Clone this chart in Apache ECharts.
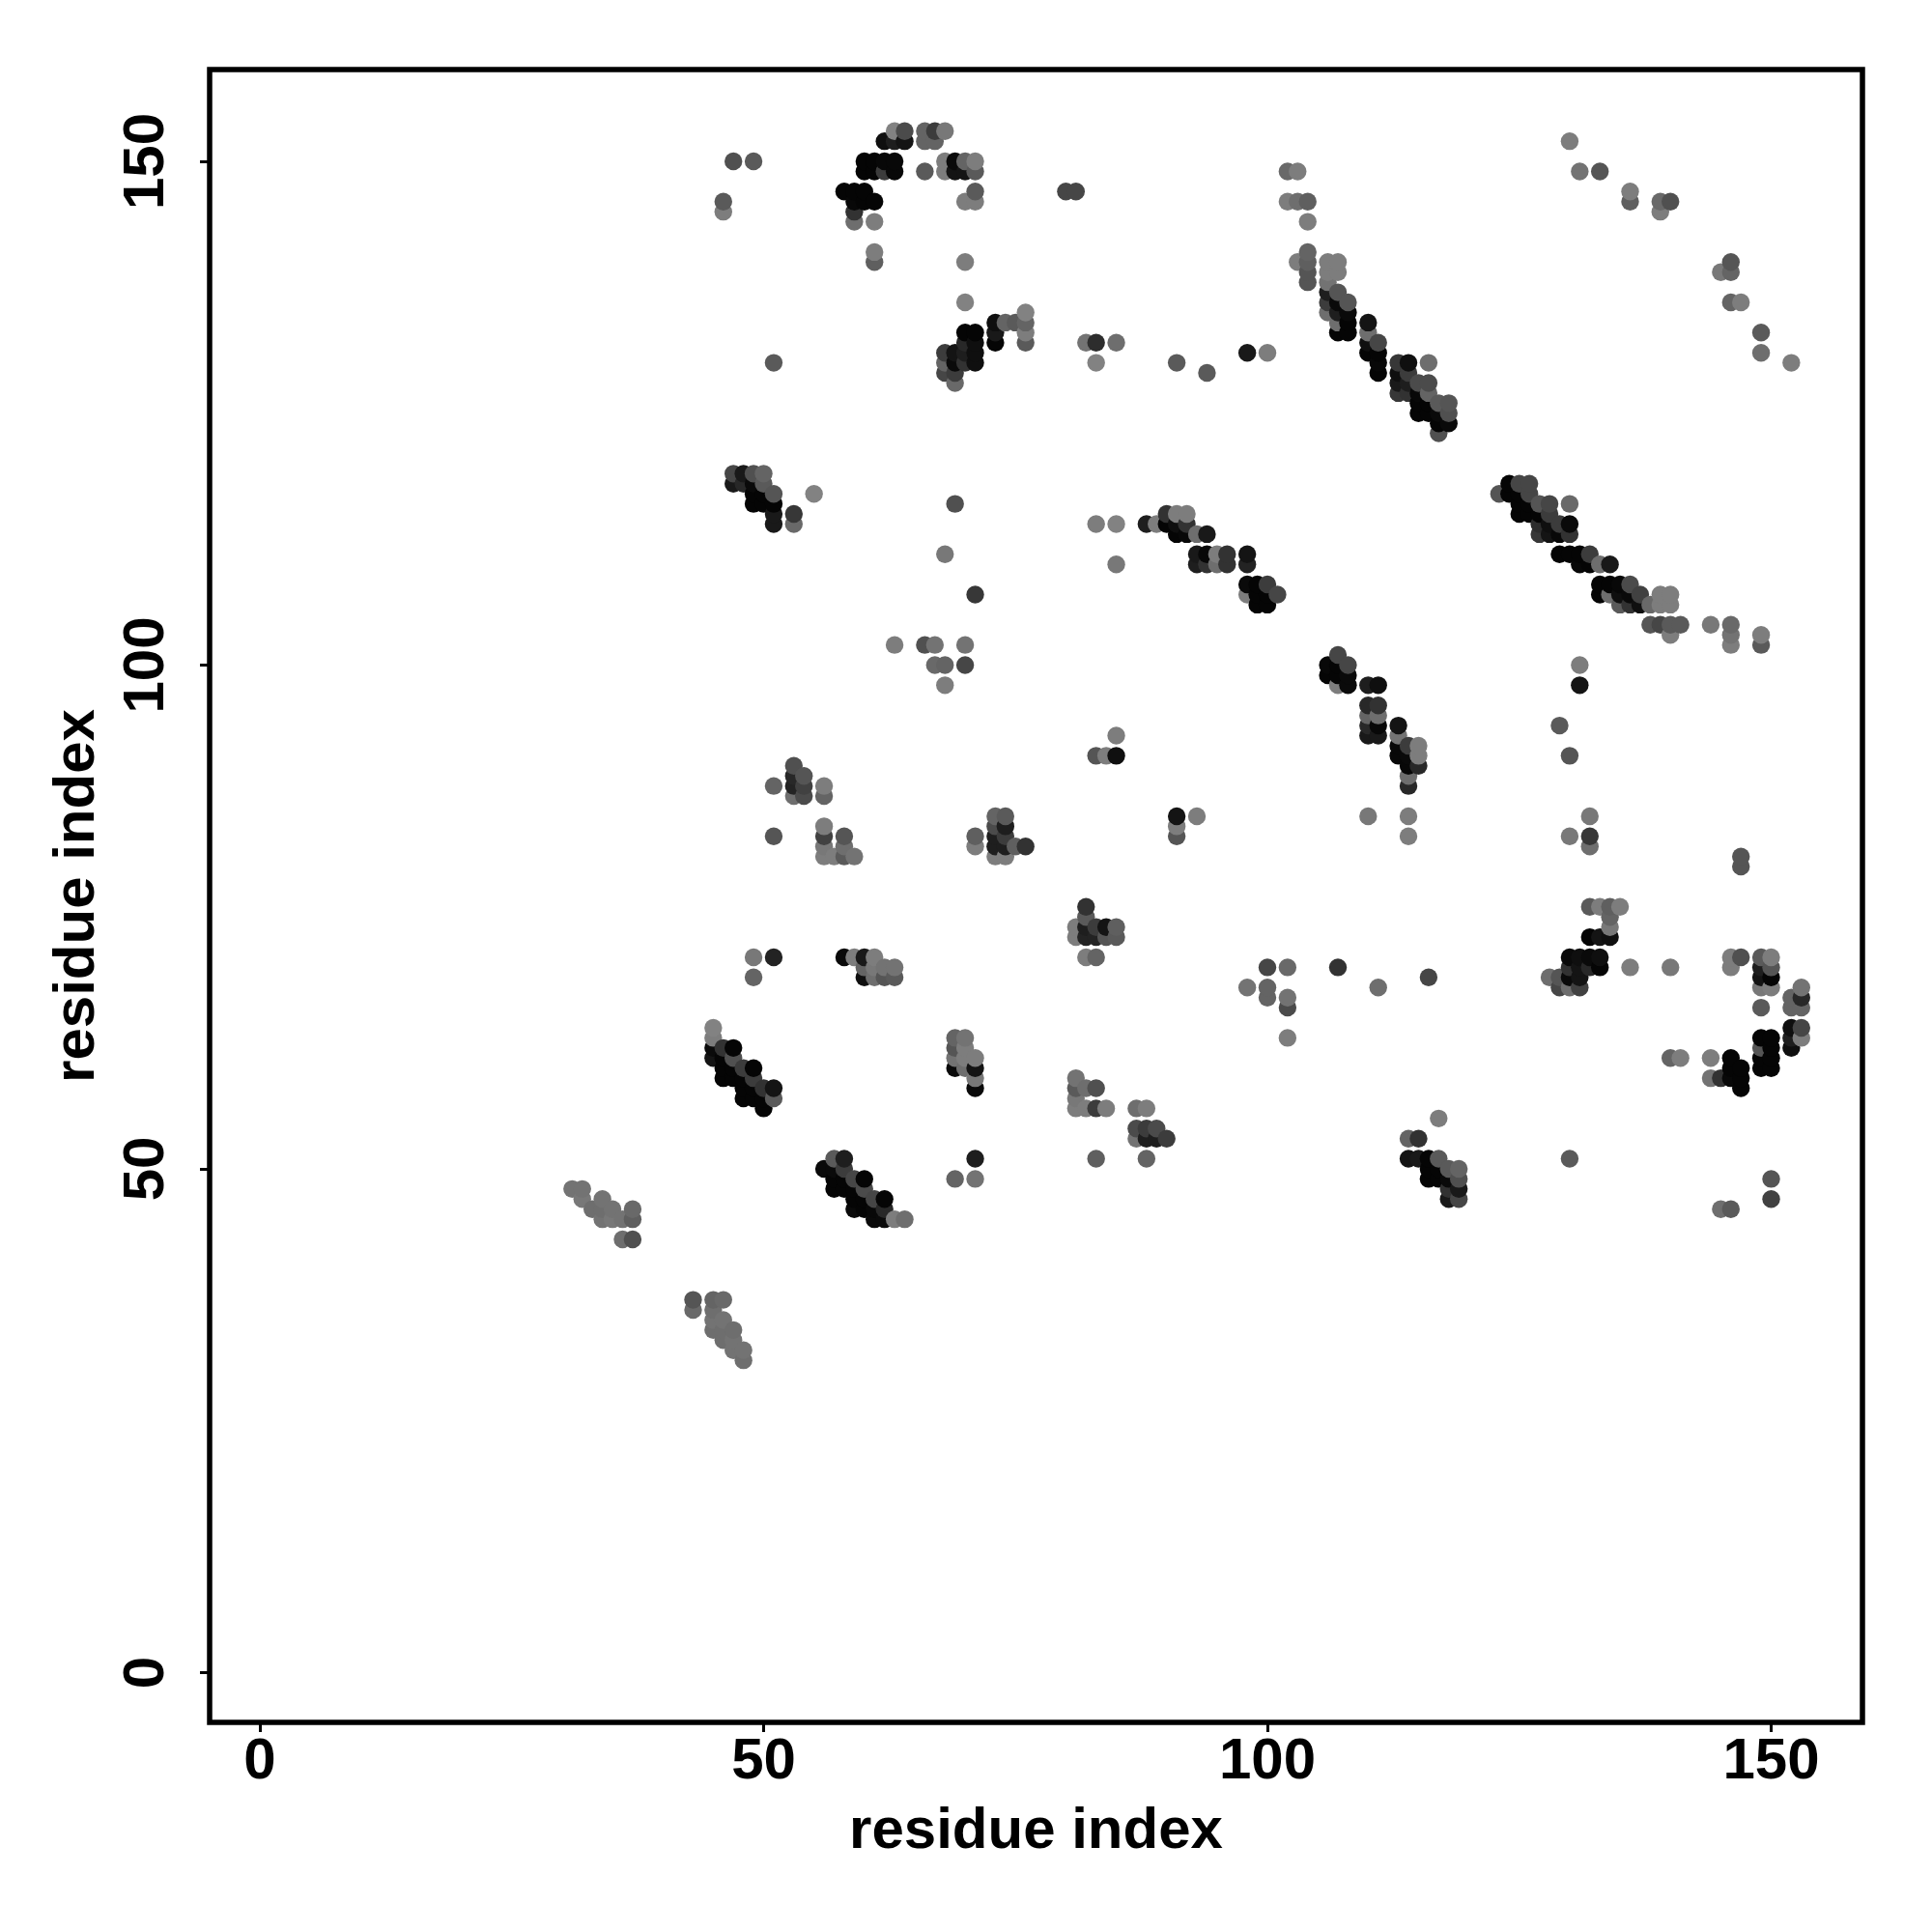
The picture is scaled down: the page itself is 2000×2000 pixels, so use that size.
<!DOCTYPE html>
<html>
<head>
<meta charset="utf-8">
<style>html,body{margin:0;padding:0;background:#fff}#c{width:2000px;height:2000px}</style>
<script src="https://cdn.jsdelivr.net/npm/echarts@6/dist/echarts.min.js"></script>
</head>
<body>
<div id="c"></div>
<script>
const tickValues = [0, 50, 100, 150];
const axisTitle = 'residue index';
const rowY = [153,152,150,149,147,146,145,144,141,140,139,138,137,136,135,134,133,132,131,130,129,128,127,126,125,124,123,
  119,118,117,116,115,114,113,111,110,108,107,106,104,103,102,101,100,99,98,96,95,94,93,92,91,90,89,88,87,85,84,83,82,81,80,
  76,75,74,73,71,70,69,68,67,66,64,63,62,61,60,59,58,57,56,55,54,53,51,50,49,48,47,46,45,43,37,36,35,34,33,32,31];
const rowX = [
[63,64,66,67,68],
[62,63,64,66,67,130],
[47,49,60,61,62,63,68,69,70,71],
[60,61,62,63,66,68,69,70,71,102,103,131,133],
[58,59,60,71,80,81,136],
[46,59,60,61,70,71,102,103,104,136,139,140],
[46,59,139],
[59,61,104],
[61,104],
[61,70,103,104,106,107,146],
[104,106,107,145,146],
[104,106],
[106,107],
[70,106,107,108,146,147],
[76,106,107,108],
[73,74,75,76,107,108,110],
[70,71,73,76,107,108,110,149],
[70,71,73,76,82,83,85,110,111],
[68,69,70,71,98,100,110,111,149],
[51,68,69,70,71,83,91,111,113,114,116,152],
[68,69,94,111,113,114],
[69,113,114,115,116],
[113,114,115,116],
[115,116,117,118],
[115,116,117,118],
[117,118],
[117],
[47,48,49,50],
[47,48,49,50,124,125,126],
[49,50,51,55,123,124,125,126],
[49,50,51,69,125,126,127,128,130],
[51,53,90,91,92,125,126,127,128],
[51,53,83,85,88,89,90,91,92,127,128,129,130],
[91,92,93,94,127,128,129,130],
[68,93,94,95,96,98,129,130,131,132],
[85,93,94,95,96,98,131,132,133,134],
[98,99,100,133,134,135,136],
[71,98,99,100,101,133,134,135,136,137,139,140],
[99,100,135,136,137,138,139,140],
[138,139,140,141,144,146],
[140,146,149],
[63,66,67,70,146,149],
[107],
[67,68,70,106,107,108,131],
[106,107,108],
[68,107,108,110,111,131],
[110,111],
[110,111],
[110,111,113,129],
[85,110,111,113],
[113,114,115],
[83,84,85,113,114,115,130],
[53,114,115],
[53,54,114],
[51,53,54,56,114],
[53,54,56],
[73,74,91,93,110,114,132],
[56,73,74,91],
[51,56,58,71,73,74,91,114,130,132],
[56,58,71,73,74,75,76,132],
[56,57,58,59,73,74,147],
[147],
[82,132,133,134,135],
[82,134],
[81,82,83,84,85,134],
[81,82,83,84,85,132,133,134],
[49,51,58,59,60,61,82,83,130,131,132,133,146,147,149,150],
[60,61,62,63,100,102,107,130,131,132,133,136,140,146,149,150],
[49,60,61,62,63,116,128,129,130,131,149,150],
[98,100,111,129,130,131,149,150,153],
[100,102,152,153],
[102,149,152,153],
[45,152,153],
[45,69,70,102,149,150,152,153],
[45,46,47,69,70,149,150,152],
[45,46,47,69,70,71,140,141,144,146,149,150],
[46,47,48,49,69,70,71,146,147,149,150],
[46,47,48,49,71,81,144,145,146,147],
[48,49,50,51,71,81,82,83,147],
[48,49,50,51,81],
[50,81,82,83,84,87,88],
[117],
[87,88,89],
[87,88,89,90,114,115],
[57,58,71,83,88,114,115,116,117,130],
[56,57,58,116,117,118,119],
[57,58,59,60,69,71,116,117,118,119,150],
[31,32,57,58,59,60,118,119],
[32,34,59,60,61,62,118,119,150],
[33,34,35,37,59,60,61,62,145,146],
[34,35,36,37,61,62,63,64],
[36,37],
[43,45,46],
[43,45],
[45,46],
[45,46,47],
[46,47],
[47,48],
[48]
];
const rowGrey = [
[130,75,100,60,120],
[15,30,20,100,100,125],
[80,90,5,5,8,8,125,10,100,125],
[5,5,60,8,90,125,20,20,90,105,125,115,85],
[5,5,5,90,70,70,125],
[90,8,5,5,125,125,125,110,95,95,105,80],
[125,50,125],
[110,125,125],
[125,100],
[95,125,125,95,125,125,85],
[85,125,125,120,100],
[85,115],
[30,85],
[130,60,10,85,100,125],
[130,110,30,10],
[15,100,90,100,110,5,20],
[5,5,25,125,5,5,110,90],
[40,15,5,90,115,45,110,15,70],
[60,20,30,15,25,125,5,5,110],
[90,100,10,50,15,130,90,8,55,15,110,125],
[70,60,90,5,15,60],
[105,25,30,75,75],
[55,50,8,100],
[5,5,90,85],
[5,5,10,80],
[5,10],
[80],
[70,25,80,100],
[25,40,10,90,5,70,70],
[5,5,85,130,85,5,5,70],
[5,5,5,80,5,5,85,70,105],
[25,55,50,125,125,5,5,5,60],
[25,105,125,130,30,125,5,15,50,45,15,60,10],
[5,8,110,25,55,20,8,50],
[120,25,8,125,50,20,5,5,5,60],
[120,30,50,110,50,35,8,5,110,25],
[10,5,60,5,5,8,75],
[55,125,5,5,70,5,110,15,10,65,125,125],
[5,5,90,50,15,105,125,125],
[85,70,90,90,120,105],
[125,115,125],
[125,80,115,115,125,90],
[70],
[105,100,70,8,5,70,125],
[5,5,10],
[125,125,10,30,15,20],
[40,50],
[100,110],
[40,8,20,90],
[125,25,25,115],
[8,60,125],
[85,125,15,8,10,125,85],
[80,8,40],
[40,85,110],
[100,35,65,125,40],
[110,75,100],
[100,90,20,125,120,125,120],
[125,75,30,125],
[85,65,85,95,30,60,85,125,120,55],
[120,110,125,30,30,95,50,110],
[125,125,90,115,125,125,85],
[85],
[50,90,125,95,125],
[90,100],
[125,30,60,20,95,120],
[125,35,35,85,90,5,20,15],
[120,35,10,125,25,125,125,100,10,15,10,15,125,80,90,125],
[100,120,115,115,70,105,50,50,20,40,5,125,120,125,30,85],
[100,15,110,85,90,70,110,85,10,20,20,5],
[115,100,110,70,110,65,120,125,115],
[100,115,100,40],
[75,90,100,100],
[130,15,70],
[125,100,115,125,5,5,30,125],
[10,50,5,85,125,85,5,15],
[20,5,80,115,125,125,100,125,125,5,5,5],
[5,5,60,5,10,110,20,5,5,5,5],
[5,5,5,60,120,115,115,50,8,5],
[5,5,50,20,10,90,110,80,5],
[5,5,5,90,120],
[5,125,125,60,125,110,125],
[125],
[75,60,75],
[115,30,30,60,100,50],
[90,30,30,95,100,20,25,5,90,90],
[10,10,60,5,5,90,100],
[5,5,70,5,100,115,5,5,10,80,85],
[115,115,5,5,5,75,50,25],
[120,115,5,5,70,5,25,70,65],
[110,110,115,105,10,5,8,40,110,90],
[115,120,115,95,10,10,125,110],
[110,80],
[85,100,105],
[105,110],
[115,115],
[110,110,110],
[110,115],
[115,115],
[110]
];

// Later residues are painted over earlier ones; within a residue, higher rows on top.
const points = [];
rowY.forEach((y, r) => rowX[r].forEach((x, k) => points.push([x, y, rowGrey[r][k]])));
points.sort((a, b) => a[0] - b[0] || a[1] - b[1]);

const font = '"Liberation Sans", Arial, sans-serif';
const chart = echarts.init(document.getElementById('c'), null, {renderer: 'canvas'});
const axisBase = {
  type: 'value',
  name: axisTitle,
  nameLocation: 'middle',
  nameTextStyle: {fontFamily: font, fontWeight: 'bold', fontSize: 60, color: '#000'},
  splitLine: {show: false},
  axisLine: {show: false, onZero: false},
  axisTick: {show: true, length: 10, customValues: tickValues, lineStyle: {color: '#000', width: 3}}
};
chart.setOption({
  animation: false,
  backgroundColor: '#fff',
  grid: {show: true, left: 217, top: 72, width: 1711, height: 1711,
         borderColor: '#000', borderWidth: 5.5, backgroundColor: '#fff', containLabel: false},
  xAxis: Object.assign({}, axisBase, {
    min: -4.986,
    max: 159.06,
    nameGap: 83,
    axisLabel: {show: true, customValues: tickValues, margin: 11, hideOverlap: false, showMinLabel: true, showMaxLabel: true,
      fontFamily: font, fontWeight: 'bold', fontSize: 60, color: '#000'}
  }),
  yAxis: Object.assign({}, axisBase, {
    min: -4.94,
    max: 159.11,
    nameGap: 107,
    nameRotate: 90,
    axisLabel: {show: true, customValues: tickValues, margin: 65, rotate: 90, hideOverlap: false, showMinLabel: true, showMaxLabel: true,
      fontFamily: font, fontWeight: 'bold', fontSize: 60, color: '#000', align: 'center', verticalAlign: 'middle'}
  }),
  series: [{
    type: 'scatter',
    symbol: 'circle',
    symbolSize: 18.4,
    large: false,
    silent: true,
    clip: false,
    data: points,
    encode: {x: 0, y: 1},
    itemStyle: {opacity: 1, color: p => { const g = p.value[2]; return `rgb(${g},${g},${g})`; }}
  }]
});
</script>
</body>
</html>
